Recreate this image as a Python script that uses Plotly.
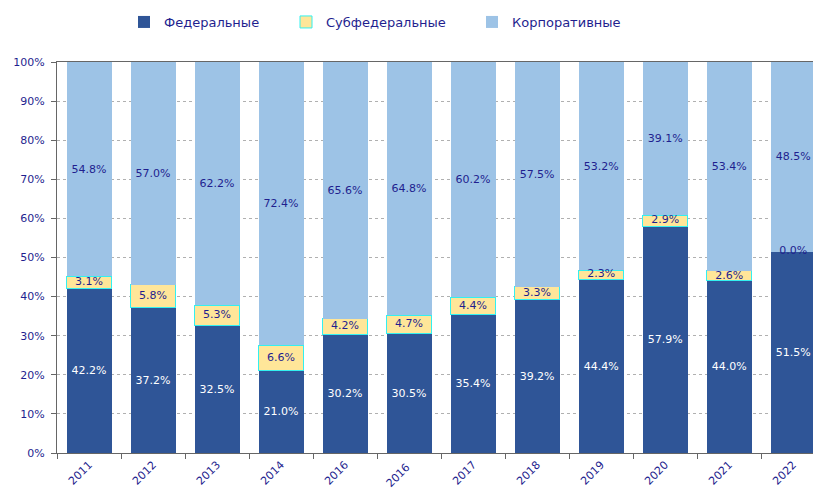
import plotly.graph_objects as go

years = ["2011", "2012", "2013", "2014", "2016", "2016 ", "2017", "2018", "2019", "2020", "2021", "2022"]
federal = [42.2, 37.2, 32.5, 21.0, 30.2, 30.5, 35.4, 39.2, 44.4, 57.9, 44.0, 51.5]
subfederal = [3.1, 5.8, 5.3, 6.6, 4.2, 4.7, 4.4, 3.3, 2.3, 2.9, 2.6, 0.0]
corporate = [54.8, 57.0, 62.2, 72.4, 65.6, 64.8, 60.2, 57.5, 53.2, 39.1, 53.4, 48.5]

NAVY = "#1F1F8F"
FONT = "DejaVu Sans"

def labels(vals):
    return [f"{v:.1f}%" for v in vals]

totals = [f + s + c for f, s, c in zip(federal, subfederal, corporate)]
sub_mid = [(f + s / 2) / t * 100 for f, s, t in zip(federal, subfederal, totals)]

fig = go.Figure()
fig.add_trace(go.Bar(
    name="Федеральные", x=years, y=federal, text=labels(federal), legend="legend",
    texttemplate="%{text}", textposition="inside", insidetextanchor="middle",
    textfont=dict(color="white", size=11, family=FONT),
    marker=dict(color="#2F5597", line=dict(width=0)),
))
fig.add_trace(go.Bar(
    name="Субфедеральные", x=years, y=subfederal, legend="legend2",
    textposition="none",
    marker=dict(color="#FFE699", line=dict(width=1, color="#33F0F0")),
))
fig.add_trace(go.Bar(
    name="Корпоративные", x=years, y=corporate, text=labels(corporate), legend="legend3",
    texttemplate="%{text}", textposition="inside", insidetextanchor="middle",
    textfont=dict(color=NAVY, size=11, family=FONT),
    marker=dict(color="#9DC3E6", line=dict(width=0)),
))
fig.add_trace(go.Scatter(
    x=years, y=sub_mid, mode="text", text=labels(subfederal), showlegend=False,
    textposition="middle center", textfont=dict(color=NAVY, size=11, family=FONT),
    cliponaxis=False, hoverinfo="skip",
))

leg_common = dict(orientation="h", xref="container", yref="container",
                  y=1 - 22 / 492, yanchor="middle", xanchor="left",
                  font=dict(size=13, color=NAVY, family=FONT), itemwidth=30,
                  bgcolor="rgba(0,0,0,0)")

fig.update_layout(
    width=813, height=492,
    barmode="stack", barnorm="percent", bargap=0.297,
    plot_bgcolor="white", paper_bgcolor="white",
    margin=dict(l=57, r=0, t=62, b=39, autoexpand=False),
    font=dict(family=FONT, color=NAVY, size=11),
    uniformtext=dict(minsize=11, mode="show"),
    showlegend=True,
    legend=dict(leg_common, x=124 / 813),
    legend2=dict(leg_common, x=286 / 813),
    legend3=dict(leg_common, x=472 / 813),
)
fig.update_xaxes(
    type="category", range=[-0.5, 11.31], tickson="boundaries", automargin=False,
    ticks="outside", ticklen=5, tickcolor="#666666",
    showline=True, linecolor="#666666", linewidth=1, mirror=True,
    tickangle=-45, tickfont=dict(size=11, color=NAVY, family=FONT),
    showgrid=False,
)
fig.update_yaxes(
    range=[0, 100], dtick=10, ticksuffix="%", automargin=False,
    ticks="outside", ticklen=5, tickcolor="#666666", ticklabelstandoff=4,
    showline=True, linecolor="#666666", linewidth=1,
    showgrid=True, gridcolor="#B0B0B0", griddash="dot", gridwidth=1,
    tickfont=dict(size=11, color=NAVY, family=FONT),
    zeroline=False,
)

fig.write_html("out.html", config={"displayModeBar": False},
               post_script="document.body.style.margin='0';document.body.style.overflow='hidden';")
